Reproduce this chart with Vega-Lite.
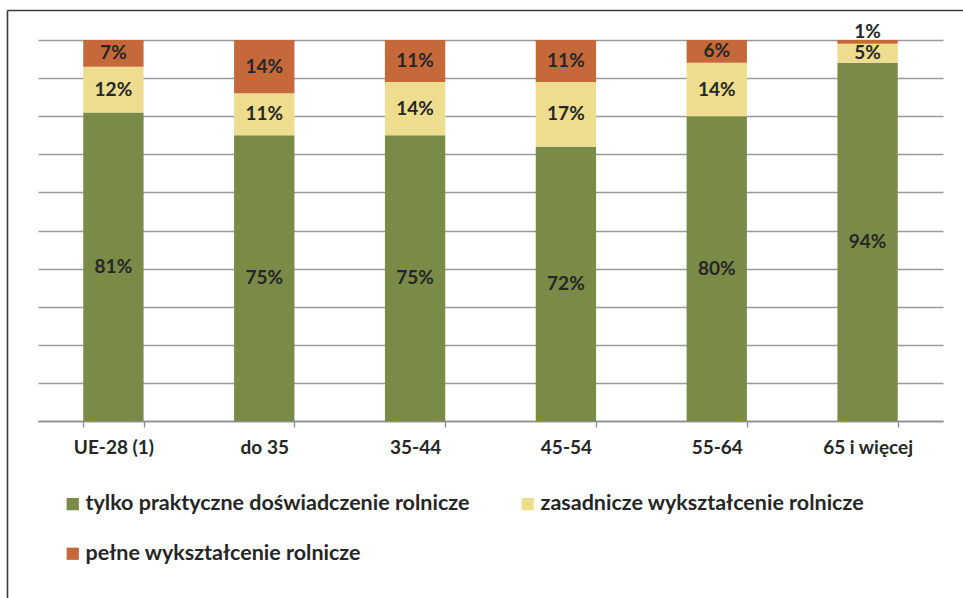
{
  "$schema": "https://vega.github.io/schema/vega-lite/v6.json",
  "width": 956,
  "height": 588,
  "autosize": {"type": "none"},
  "padding": {"left": 7, "top": 10, "right": 0, "bottom": 0},
  "background": "white",
  "config": {
    "view": {"stroke": null},
    "font": "Lato"
  },
  "data": {
    "values": [
      {"grupa": "UE-28 (1)", "typ": "tylko praktyczne doświadczenie rolnicze", "rank": 1, "share": 0.81},
      {"grupa": "UE-28 (1)", "typ": "zasadnicze wykształcenie rolnicze", "rank": 2, "share": 0.12},
      {"grupa": "UE-28 (1)", "typ": "pełne wykształcenie rolnicze", "rank": 3, "share": 0.07},
      {"grupa": "do 35", "typ": "tylko praktyczne doświadczenie rolnicze", "rank": 1, "share": 0.75},
      {"grupa": "do 35", "typ": "zasadnicze wykształcenie rolnicze", "rank": 2, "share": 0.11},
      {"grupa": "do 35", "typ": "pełne wykształcenie rolnicze", "rank": 3, "share": 0.14},
      {"grupa": "35-44", "typ": "tylko praktyczne doświadczenie rolnicze", "rank": 1, "share": 0.75},
      {"grupa": "35-44", "typ": "zasadnicze wykształcenie rolnicze", "rank": 2, "share": 0.14},
      {"grupa": "35-44", "typ": "pełne wykształcenie rolnicze", "rank": 3, "share": 0.11},
      {"grupa": "45-54", "typ": "tylko praktyczne doświadczenie rolnicze", "rank": 1, "share": 0.72},
      {"grupa": "45-54", "typ": "zasadnicze wykształcenie rolnicze", "rank": 2, "share": 0.17},
      {"grupa": "45-54", "typ": "pełne wykształcenie rolnicze", "rank": 3, "share": 0.11},
      {"grupa": "55-64", "typ": "tylko praktyczne doświadczenie rolnicze", "rank": 1, "share": 0.80},
      {"grupa": "55-64", "typ": "zasadnicze wykształcenie rolnicze", "rank": 2, "share": 0.14},
      {"grupa": "55-64", "typ": "pełne wykształcenie rolnicze", "rank": 3, "share": 0.06},
      {"grupa": "65 i więcej", "typ": "tylko praktyczne doświadczenie rolnicze", "rank": 1, "share": 0.94},
      {"grupa": "65 i więcej", "typ": "zasadnicze wykształcenie rolnicze", "rank": 2, "share": 0.05},
      {"grupa": "65 i więcej", "typ": "pełne wykształcenie rolnicze", "rank": 3, "share": 0.01}
    ]
  },
  "resolve": {"scale": {"x": "independent", "y": "independent"}, "axis": {"x": "independent", "y": "independent"}},
  "layer": [
    {
      "layer": [
        {
          "mark": {"type": "bar"},
          "encoding": {
            "x": {
              "field": "grupa", "type": "nominal", "sort": null,
              "scale": {"range": [31, 936], "paddingInner": 0.6, "paddingOuter": 0.3},
              "axis": {
                "title": null, "orient": "bottom", "offset": -177,
                "labelAngle": 0, "labelFont": "Lato", "labelFontSize": 19, "labelFontWeight": "bold",
                "labelColor": "#262626", "labelPadding": 11,
                "domainColor": "#8c8c8c", "domainWidth": 1.3,
                "tickColor": "#8c8c8c", "tickSize": 6, "tickWidth": 1.3, "tickBand": "extent",
                "grid": false
              }
            },
            "y": {
              "field": "share", "type": "quantitative", "stack": "normalize",
              "scale": {"domain": [0, 1], "range": [411, 30], "nice": false},
              "axis": {
                "title": null, "labels": false, "ticks": false, "domain": false,
                "grid": true, "gridColor": "#9a9a9a", "gridWidth": 1.3,
                "values": [0, 0.1, 0.2, 0.3, 0.4, 0.5, 0.6, 0.7, 0.8, 0.9, 1]
              }
            },
            "order": {"field": "rank", "type": "quantitative"},
            "color": {
              "field": "typ", "type": "nominal",
              "scale": {
                "domain": ["tylko praktyczne doświadczenie rolnicze", "zasadnicze wykształcenie rolnicze", "pełne wykształcenie rolnicze"],
                "range": ["#7a8b47", "#eedd8e", "#c6693a"]
              },
              "legend": {
                "title": null, "orient": "none", "legendX": 55, "legendY": 483, "padding": 0,
                "direction": "horizontal", "columns": 2,
                "symbolType": "square", "symbolSize": 150, "symbolStrokeWidth": 0,
                "labelFont": "Lato", "labelFontSize": 21.5, "labelFontWeight": "bold",
                "labelColor": "#262626", "labelOffset": 2, "labelLimit": 600,
                "columnPadding": 47, "rowPadding": 27
              }
            }
          }
        },
        {
          "mark": {"type": "text", "font": "Lato", "fontSize": 19, "fontWeight": "bold", "color": "#262626", "baseline": "middle"},
          "encoding": {
            "x": {"field": "grupa", "type": "nominal", "sort": null},
            "y": {"field": "share", "type": "quantitative", "stack": "normalize", "bandPosition": 0.5},
            "order": {"field": "rank", "type": "quantitative"},
            "detail": {"field": "typ"},
            "text": {
              "condition": {"test": "datum.share < 0.03", "value": ""},
              "field": "share", "type": "quantitative", "format": ".0%"
            }
          }
        },
        {
          "transform": [
            {"stack": "share", "groupby": ["grupa"], "sort": [{"field": "rank", "order": "ascending"}], "offset": "normalize", "as": ["s0", "s1"]},
            {"filter": "datum.share < 0.03"}
          ],
          "mark": {"type": "text", "font": "Lato", "fontSize": 19, "fontWeight": "bold", "color": "#262626", "baseline": "alphabetic", "dy": -2},
          "encoding": {
            "x": {"field": "grupa", "type": "nominal", "sort": null},
            "y": {"field": "s1", "type": "quantitative"},
            "text": {"field": "share", "type": "quantitative", "format": ".0%"}
          }
        }
      ]
    },
    {
      "mark": {"type": "point", "opacity": 0},
      "encoding": {
        "x": {
          "field": "share", "type": "quantitative",
          "scale": {"domain": [0, 1], "nice": false, "zero": false},
          "axis": {"orient": "top", "title": null, "labels": false, "ticks": false, "grid": false, "domain": true, "domainColor": "#3a3a3a", "domainWidth": 1.6}
        },
        "y": {
          "field": "share", "type": "quantitative",
          "scale": {"domain": [0, 1], "nice": false, "zero": false},
          "axis": {"orient": "left", "title": null, "labels": false, "ticks": false, "grid": false, "domain": true, "domainColor": "#3a3a3a", "domainWidth": 1.6}
        }
      }
    }
  ]
}
